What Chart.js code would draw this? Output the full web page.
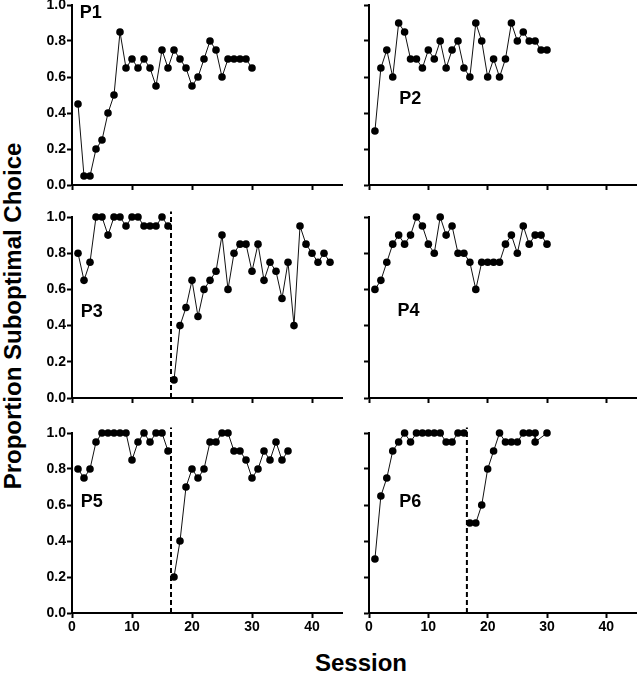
<!DOCTYPE html>
<html>
<head>
<meta charset="utf-8">
<script src="https://cdn.jsdelivr.net/npm/chart.js@4"></script>
<style>
  body { margin: 0; background: #fff; width: 640px; height: 675px; position: relative; overflow: hidden;
         font-family: "Liberation Sans", Arial, sans-serif; }
  canvas.panel { position: absolute; }
  #ytitle { position: absolute; left: 13px; top: 316px; transform: translate(-50%, -50%) rotate(-90deg);
            font-weight: bold; font-size: 24px; white-space: nowrap; }
  #xtitle { position: absolute; left: 361px; top: 663px; transform: translate(-50%, -50%);
            font-weight: bold; font-size: 24px; white-space: nowrap; }
</style>
</head>
<body>
<div id="ytitle">Proportion Suboptimal Choice</div>
<div id="xtitle">Session</div>

<script>
// values, one point per session
const p1Values = [0.45, 0.05, 0.05, 0.2, 0.25, 0.4, 0.5, 0.85, 0.65, 0.7, 0.65, 0.7, 0.65, 0.55, 0.75,
                  0.65, 0.75, 0.7, 0.65, 0.55, 0.6, 0.7, 0.8, 0.75, 0.6, 0.7, 0.7, 0.7, 0.7, 0.65];
const p2Values = [0.3, 0.65, 0.75, 0.6, 0.9, 0.85, 0.7, 0.7, 0.65, 0.75, 0.7, 0.8, 0.65, 0.75, 0.8,
                  0.65, 0.6, 0.9, 0.8, 0.6, 0.7, 0.6, 0.7, 0.9, 0.8, 0.85, 0.8, 0.8, 0.75, 0.75];
const p3Before = [0.8, 0.65, 0.75, 1, 1, 0.9, 1, 1, 0.95, 1, 1, 0.95, 0.95, 0.95, 1, 0.95];
const p3After = [0.1, 0.4, 0.5, 0.65, 0.45, 0.6, 0.65, 0.7, 0.9, 0.6, 0.8, 0.85, 0.85, 0.7, 0.85,
                 0.65, 0.75, 0.7, 0.55, 0.75, 0.4, 0.95, 0.85, 0.8, 0.75, 0.8, 0.75];
const p4Values = [0.6, 0.65, 0.75, 0.85, 0.9, 0.85, 0.9, 1, 0.95, 0.85, 0.8, 1, 0.9, 0.95, 0.8,
                  0.8, 0.75, 0.6, 0.75, 0.75, 0.75, 0.75, 0.85, 0.9, 0.8, 0.95, 0.85, 0.9, 0.9, 0.85];
const p5Before = [0.8, 0.75, 0.8, 0.95, 1, 1, 1, 1, 1, 0.85, 0.95, 1, 0.95, 1, 1, 0.9];
const p5After = [0.2, 0.4, 0.7, 0.8, 0.75, 0.8, 0.95, 0.95, 1, 1, 0.9, 0.9, 0.85, 0.75, 0.8,
                 0.9, 0.85, 0.95, 0.85, 0.9];
const p6Before = [0.3, 0.65, 0.75, 0.9, 0.95, 1, 0.95, 1, 1, 1, 1, 1, 0.95, 0.95, 1, 1];
const p6AfterSessions = [17, 18, 19, 20, 21, 22, 23, 24, 25, 26, 27, 28, 28, 30];
const p6After = [0.5, 0.5, 0.6, 0.8, 0.9, 1, 0.95, 0.95, 0.95, 1, 1, 1, 0.95, 1];

const xTicks = [0, 10, 20, 30, 40];
const yTicks = ['0.0', '0.2', '0.4', '0.6', '0.8', '1.0'];
const phaseChange = 16.5;

const FONT = '"Liberation Sans", Arial, sans-serif';

// layout of the grid (pixels)
const rows = [
    { top: 0,   height: 200, padTop: 5,  axisH: 15 },
    { top: 200, height: 210, padTop: 17, axisH: 12 },
    { top: 410, height: 230, padTop: 23, axisH: 27 }
];
const cols = [
    { left: 20,  width: 330, axisW: 52, padRight: 8 },
    { left: 345, width: 295, axisW: 24, padRight: 1 }
];

function toPoints(values, start) {
    return values.map((v, i) => ({ x: start + i, y: v }));
}

function series(points) {
    return {
        data: points,
        showLine: true,
        borderColor: '#111',
        borderWidth: 1,
        pointRadius: 3.8,
        pointBackgroundColor: '#000',
        pointBorderWidth: 0,
        clip: false
    };
}

function divider() {
    return {
        data: [{ x: phaseChange, y: 0 }, { x: phaseChange, y: 1.03 }],
        showLine: true,
        borderColor: '#000',
        borderWidth: 2,
        borderDash: [5, 3],
        pointRadius: 0,
        clip: false
    };
}

const panels = [
    { name: 'P1', row: 0, col: 0, label: [1.3, 0.956], sets: [series(toPoints(p1Values, 1))] },
    { name: 'P2', row: 0, col: 1, label: [5.1, 0.478], sets: [series(toPoints(p2Values, 1))] },
    { name: 'P3', row: 1, col: 0, label: [1.45, 0.475],
      sets: [series(toPoints(p3Before, 1)), series(toPoints(p3After, 17)), divider()] },
    { name: 'P4', row: 1, col: 1, label: [4.8, 0.48], sets: [series(toPoints(p4Values, 1))] },
    { name: 'P5', row: 2, col: 0, label: [1.45, 0.615],
      sets: [series(toPoints(p5Before, 1)), series(toPoints(p5After, 17)), divider()] },
    { name: 'P6', row: 2, col: 1, label: [5.1, 0.615],
      sets: [series(toPoints(p6Before, 1)),
             series(p6After.map((v, i) => ({ x: p6AfterSessions[i], y: v }))), divider()] }
];

const panelLabel = {
    id: 'panelLabel',
    afterDatasetsDraw(chart, args, opts) {
        const { ctx, scales } = chart;
        ctx.save();
        ctx.font = 'bold 18px ' + FONT;
        ctx.fillStyle = '#000';
        ctx.textBaseline = 'middle';
        ctx.fillText(opts.text, scales.x.getPixelForValue(opts.x), scales.y.getPixelForValue(opts.y));
        ctx.restore();
    }
};

const axisGrid = {
    display: true,
    drawOnChartArea: false,
    drawTicks: true,
    tickLength: 5,
    tickWidth: 2,
    tickColor: '#000'
};

panels.forEach(p => {
    const r = rows[p.row], c = cols[p.col];
    const canvas = document.createElement('canvas');
    canvas.className = 'panel';
    canvas.width = c.width;
    canvas.height = r.height;
    canvas.style.left = c.left + 'px';
    canvas.style.top = r.top + 'px';
    document.body.appendChild(canvas);

    const bottomRow = p.row === 2;
    const leftCol = p.col === 0;

    new Chart(canvas.getContext('2d'), {
        type: 'scatter',
        data: { datasets: p.sets },
        options: {
            responsive: false,
            animation: false,
            devicePixelRatio: 1,
            layout: { padding: { top: r.padTop, right: c.padRight, left: 0, bottom: 0 } },
            plugins: {
                legend: { display: false },
                tooltip: { enabled: false },
                panelLabel: { text: p.name, x: p.label[0], y: p.label[1] }
            },
            scales: {
                x: {
                    type: 'linear',
                    min: 0,
                    max: 45,
                    afterBuildTicks: s => { s.ticks = xTicks.map(v => ({ value: v })); },
                    ticks: {
                        display: bottomRow,
                        padding: 1,
                        color: '#000',
                        maxRotation: 0,
                        font: { family: FONT, size: 14, weight: 'bold' }
                    },
                    border: { color: '#000', width: 2 },
                    grid: axisGrid,
                    afterFit: s => { s.height = r.axisH; s.paddingLeft = 0; s.paddingRight = 0; }
                },
                y: {
                    min: 0,
                    max: 1,
                    afterBuildTicks: s => { s.ticks = yTicks.map(t => ({ value: parseFloat(t) })); },
                    ticks: {
                        display: leftCol,
                        padding: 1,
                        color: '#000',
                        callback: (v, i) => yTicks[i],
                        font: { family: FONT, size: 14, weight: 'bold' }
                    },
                    border: { color: '#000', width: 2 },
                    grid: axisGrid,
                    afterFit: s => { s.width = c.axisW; s.paddingTop = 0; s.paddingBottom = 0; }
                }
            }
        },
        plugins: [panelLabel]
    });
});
</script>
</body>
</html>
